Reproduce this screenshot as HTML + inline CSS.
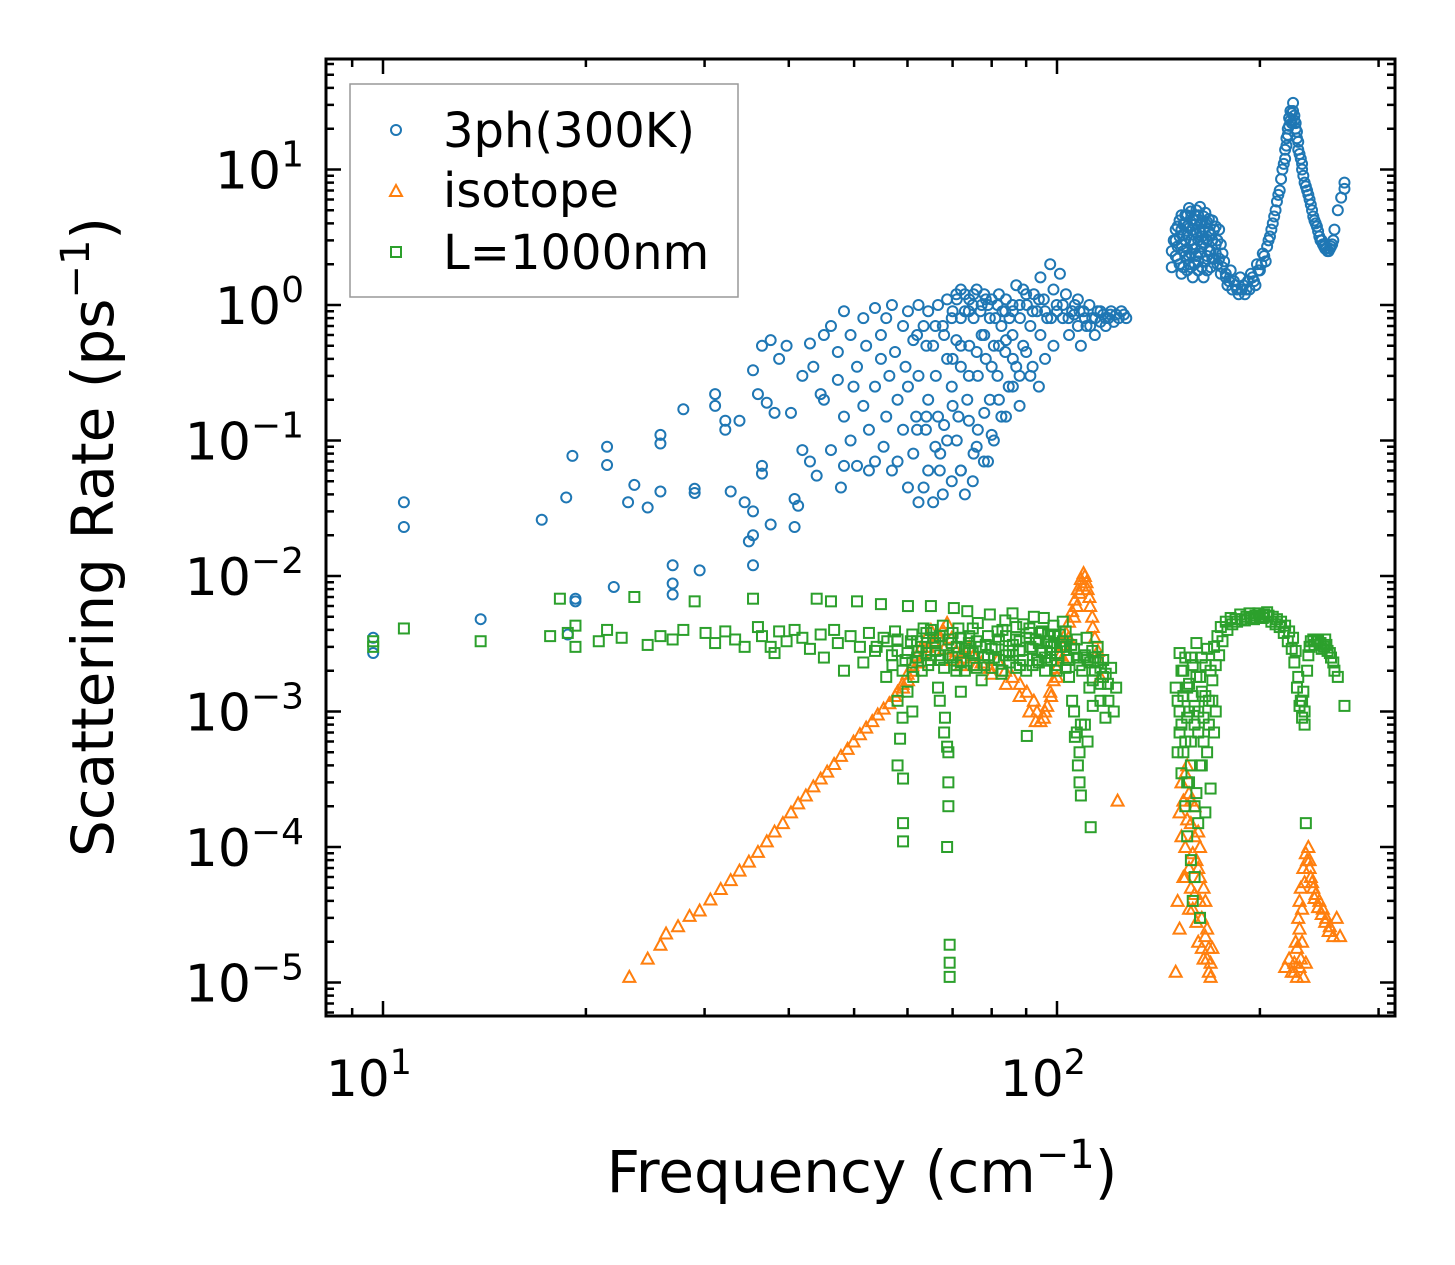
<!DOCTYPE html>
<html><head><meta charset="utf-8"><style>
body{margin:0;background:#fff;}
svg{display:block;font-family:"DejaVu Sans","Liberation Sans",sans-serif;}
</style></head><body>
<svg id="chart" width="1455" height="1265" viewBox="0 0 1455 1265" xmlns="http://www.w3.org/2000/svg">
<rect width="1455" height="1265" fill="#fff"/>
<g id="marks"></g>
<g id="axes"></g>
<g id="legend">
<rect x="350" y="84" width="388" height="213" fill="#fff" stroke="#999" stroke-width="1.5"/>
<g><circle cx="396" cy="130" r="5" fill="none" stroke="#1f77b4" stroke-width="2"/><text x="443" y="147" font-size="48">3ph(300K)</text></g>
<g><path d="M390,196 L396,185 L402,196 Z" fill="none" stroke="#ff7f0e" stroke-width="2"/><text x="443" y="207" font-size="48">isotope</text></g>
<g><rect x="391" y="247" width="10" height="10" fill="none" stroke="#2ca02c" stroke-width="2"/><text x="443" y="269" font-size="48">L=1000nm</text></g>
</g>
<text x="862" y="1192" font-size="58" text-anchor="middle">Frequency (cm<tspan dy="-24" font-size="40">−1</tspan><tspan dy="24">)</tspan></text>
<text transform="translate(113,537) rotate(-90)" font-size="58" text-anchor="middle">Scattering Rate (ps<tspan dy="-24" font-size="40">−1</tspan><tspan dy="24">)</tspan></text>
</svg>
<script>
const xTickExps = [1, 2];
const yTickExps = [1, 0, -1, -2, -3, -4, -5];

const threePhPoints = [
[9.67,0.0035],[9.67,0.0027],[10.74,0.035],[10.74,0.023],[13.96,0.0048],[17.2,0.026],[18.7,0.038],[19.1,0.077],[18.8,0.0037],[19.3,0.0068],[19.3,0.0065],[21.5,0.09],[21.5,0.066],[22,0.0083],[23.1,0.035],[23.6,0.047],[24.7,0.032],[25.8,0.095],[25.8,0.11],[25.8,0.042],[26.9,0.012],[26.9,0.0088],[26.9,0.0073],[27.9,0.17],[29,0.044],[29,0.041],[29.5,0.011],[31.1,0.22],[31.1,0.18],[32.2,0.14],[32.2,0.12],[32.8,0.042],[33.8,0.14],[34.4,0.035],[34.9,0.018],[35.4,0.02],[35.4,0.03],[35.4,0.012],[35.4,0.33],[36,0.22],[36.5,0.5],[36.5,0.065],[36.5,0.057],[37.1,0.19],[37.6,0.024],[37.6,0.55],[38.1,0.16],[38.7,0.4],[39.7,0.5],[40.3,0.16],[40.8,0.023],[40.8,0.037],[41.3,0.033],[41.9,0.085],[41.9,0.3],[43,0.52],[43,0.07],[43.5,0.35],[44,0.055],[44.6,0.22],[45.1,0.6],[45.1,0.2],[46.2,0.085],[46.2,0.7],[47.3,0.28],[47.3,0.45],[47.8,0.045],[48.3,0.15],[48.3,0.9],[48.3,0.065],[49.4,0.6],[49.4,0.1],[49.9,0.25],[50.5,0.35],[50.5,0.065],[51.6,0.18],[51.6,0.8],[52.1,0.5],[52.6,0.06],[52.6,0.12],[53.7,0.95],[53.7,0.25],[53.7,0.07],[54.8,0.4],[54.8,0.6],[55.3,0.09],[55.8,0.15],[55.8,0.8],[56.4,0.3],[56.9,0.06],[56.9,1.0],[57.5,0.45],[58,0.2],[58,0.07],[59.1,0.7],[59.1,0.12],[59.6,0.35],[60.1,0.045],[60.1,0.9],[60.1,0.25],[61.2,0.55],[61.2,0.08],[61.8,0.15],[62.3,0.035],[62.3,1.0],[62.3,0.3],[63.4,0.7],[63.4,0.045],[63.9,0.12],[64.4,0.2],[64.4,0.9],[64.4,0.06],[65.5,0.5],[65.5,0.035],[66.1,0.3],[66.6,1.0],[66.6,0.15],[67.1,0.08],[67.7,0.7],[67.7,0.04],[68.7,0.4],[68.7,1.1],[68.7,0.1],[69.8,0.25],[69.8,0.8],[69.8,0.05],[70.9,1.2],[70.9,0.55],[71.4,0.15],[72,0.06],[72,1.3],[72,0.35],[73,0.9],[73,0.04],[73.6,0.2],[74.1,1.1],[74.1,0.5],[75.2,0.08],[75.2,0.8],[75.2,1.2],[76.3,0.3],[76.3,0.12],[77.3,1.0],[77.3,0.6],[77.9,0.07],[78.4,0.4],[78.4,1.1],[79.5,0.2],[79.5,0.8],[80.6,0.5],[80.6,0.1],[81.6,1.0],[81.6,0.3],[82.7,0.7],[82.7,0.15],[83.8,0.9],[83.8,0.45],[84.8,0.25],[85.9,1.0],[85.9,0.6],[87,1.4],[87,0.35],[88.1,0.8],[89.1,1.3],[89.1,0.5],[90.2,1.0],[91.3,0.7],[91.3,0.3],[92.4,1.2],[93.4,0.9],[94.5,1.6],[94.5,0.6],[95.6,1.1],[96.7,0.8],[97.7,2.0],[98.8,1.3],[98.8,0.5],[99.9,1.0],[101,1.7],[102,0.8],[103.1,1.2],[104.2,0.6],[105.3,0.9],[106.3,1.0],[107.4,0.7],[107.4,1.1],[108.5,0.5],[109.5,0.9],[110.6,0.7],[111.7,1.0],[112.8,0.8],[113.8,0.6],[114.9,0.9],[116,0.75],[117.1,0.85],[118.1,0.7],[119.2,0.8],[120.3,0.9],[121.4,0.75],[122.4,0.85],[123.5,0.8],[124.6,0.9],[125.7,0.85],[126.7,0.8],
[148,2.5],[148,1.9],[149,3.0],[150,3.6],[151,2.2],[152,4.2],[153,2.8],[153,1.7],[154,3.3],[155,4.6],[155,2.3],[156,3.8],[157,2.0],[157,5.2],[158,3.0],[159,4.3],[159,1.6],[160,2.6],[161,5.0],[161,3.4],[162,2.1],[163,4.0],[163,5.3],[164,2.7],[165,4.5],[165,1.6],[166,3.1],[167,2.3],[167,4.1],[168,3.5],[169,2.5],[169,1.9],[170,3.0],[171,2.2],[172,2.8],[173,2.0],[174,3.6],[175,1.7],[176,2.4],[160,3.9],[162,4.6],[158,2.4],[156,1.8],[166,4.8],[164,3.2],[170,4.2],[154,3.9],[172,3.8],
[178,1.7],[180,1.5],[182,1.3],[184,1.4],[186,1.2],[188,1.3],[190,1.2],[192,1.5],[193,1.3],[195,1.6],[197,1.4],[199,1.8],[201,2.0],[203,2.3],[205,2.7],[207,3.2],[209,4.0],[211,5.0],[213,6.5],[215,8.5],[217,11],[218,14],[219,17],[220,20],[221,24],[222,27],[224,31],[225,25],[226,22],[227,19],[228,16],[229,13],[231,11],[232,9],[234,7.5],[236,6.5],[238,5.5],[240,4.5],[242,4.0],[244,3.5],[246,3.0],[248,2.8],[250,2.6],[252,2.5],[254,2.6],[256,2.8],[258,3.6],[261,5.0],[264,6.2],[267,8.0],[267,7.2]
];

const threePhDensePoints = [
[150,3.0],[150,2.3],[151,3.8],[151,2.7],[152,2.0],[152,3.2],[153,4.6],[153,3.6],[154,2.5],[154,1.9],[155,3.0],[155,4.0],[156,2.6],[156,3.3],[156,4.6],[157,2.3],[157,3.7],[158,4.9],[158,1.9],[159,3.6],[159,2.8],[160,2.0],[160,4.6],[161,2.3],[161,4.2],[162,3.0],[162,1.8],[163,3.5],[163,2.4],[164,4.0],[164,1.9],[165,2.9],[165,3.6],[166,2.1],[166,4.0],[167,3.0],[167,1.8],[168,2.5],[168,4.3],[169,3.3],[170,2.2],[171,3.6],[172,2.4],[173,3.0],[174,2.2],[175,2.8],[176,1.9],[177,2.1],[178,1.6],[179,1.4],[181,1.8],[183,1.5],[185,1.3],[187,1.6],[189,1.4],[191,1.3],[194,1.7],[196,1.5],[198,2.0],[200,1.8],[202,2.4],[204,2.1],[206,3.0],[208,3.6],[210,4.5],[212,5.8],[214,7.0],[216,10],[218,12],[219,15],[220,18],[221,21],[222,23],[223,26],[223,22],[224,27],[225,23],[226,20],[227,17],[228,14],[230,12],[231,10],[233,8],[235,7],[237,6],[239,5],[241,4.2],[243,3.8],[245,3.2],[247,3.0],[249,2.7],[251,2.6],[253,2.5],[255,2.7],[257,3.0],
[70,0.9],[71,1.1],[72,0.8],[73,1.2],[74,0.9],[75,1.0],[76,1.3],[77,0.9],[78,1.2],[79,1.0],[80,1.1],[81,0.8],[82,1.2],[83,0.9],[84,1.1],[85,0.8],[86,0.9],[88,1.0],[90,1.2],[92,0.9],[94,1.1],[96,0.9],[98,0.8],[100,0.9],[102,1.0],[104,0.8],[106,0.85],[108,0.9],[110,0.8],[112,0.7],[114,0.8],[116,0.9],[118,0.8],[120,0.85],
[62,0.6],[64,0.5],[66,0.7],[68,0.6],[70,0.4],[72,0.5],[74,0.3],[76,0.45],[78,0.6],[80,0.35],[82,0.5],[84,0.55],[86,0.4],[88,0.3],[90,0.45],[92,0.35],[94,0.25],[96,0.4],
[62,0.12],[64,0.15],[66,0.09],[67,0.06],[68,0.13],[70,0.18],[71,0.1],[72,0.06],[74,0.14],[75,0.05],[76,0.09],[78,0.16],[79,0.07],[80,0.11],[82,0.2],[84,0.15],[86,0.25],[88,0.18]
];

const isotopePoints = [
[23.2,1.1e-5],[24.7,1.5e-5],[25.8,1.9e-5],[26.3,2.3e-5],[27.4,2.6e-5],[28.5,3.1e-5],[29.5,3.4e-5],[30.6,4.1e-5],[31.7,4.9e-5],[32.8,5.7e-5],[33.8,6.7e-5],[34.9,7.8e-5],[36,9.2e-5],[37.1,1.1e-4],[38.1,1.3e-4],[39.2,1.5e-4],[40.3,1.8e-4],[41.3,2.1e-4],[42.4,2.4e-4],[43.5,2.8e-4],[44.6,3.2e-4],[45.6,3.6e-4],[46.7,4.1e-4],[47.8,4.7e-4],[48.9,5.3e-4],[49.9,6e-4],[51,6.8e-4],[52.1,7.6e-4],[53.2,8.5e-4],[54.2,9.5e-4],[55.3,1.05e-3],[56.4,1.15e-3],[57.5,1.3e-3],[59.1,1.5e-3],[60.1,1.7e-3],[61.2,2e-3],[62.3,2.3e-3],[63.4,2.6e-3],[64.4,3e-3],[65.5,3.3e-3],[66.6,3.6e-3],[67.7,4e-3],[68.7,4.5e-3],[69.8,3.5e-3],[70.9,2.8e-3],[72,2.2e-3],[73,2.5e-3],[74.1,3e-3],[75.2,2.6e-3],[77.3,2.3e-3],[79.5,2.1e-3],[81.6,2.4e-3],[83.8,2.0e-3],[85.9,1.8e-3],[88.1,1.6e-3],[90.2,1.4e-3],[92.4,1.2e-3],[93.4,1.0e-3],[94.5,8.5e-4],[95.6,9e-4],[96.7,1.1e-3],[97.7,1.4e-3],[98.8,1.7e-3],[99.9,2.1e-3],[101,2.6e-3],[102,3.1e-3],[103.1,3.8e-3],[104.2,4.6e-3],[105.3,5.5e-3],[106.3,6.7e-3],[107.4,8e-3],[108.5,9.5e-3],[109.5,1.05e-2],[110.6,9e-3],[111.7,7e-3],[112.8,5e-3],[113.8,3.5e-3],[114.9,2.5e-3],[116,1.8e-3],[123,2.2e-4],
[150,1.2e-5],[152,1.8e-4],[153,3e-4],[154,6e-5],[155,1e-4],[156,4e-4],[157,2.5e-4],[158,1.5e-4],[158,5e-5],[159,3.5e-5],[160,2e-4],[161,8e-5],[162,2e-5],[162,1.3e-4],[163,6e-5],[164,3e-5],[165,1.5e-5],[166,4e-5],[167,2.5e-5],[168,1.2e-5],[169,1.1e-5],[170,1.8e-5],[163,1.0e-4],[157,7e-5],
[218,1.3e-5],[221,1.5e-5],[223,1.2e-5],[226,2e-5],[228,3e-5],[229,4e-5],[230,5e-5],[232,7e-5],[234,9e-5],[236,1e-4],[237,8e-5],[238,6e-5],[240,5e-5],[242,4.5e-5],[245,4e-5],[248,3.5e-5],[251,3e-5],[254,2.6e-5],[257,2.2e-5],[260,3e-5],[263,2.2e-5],[229,1.3e-5],[231,2e-5],[232,1.1e-5],[234,1.4e-5]
];

const isotopeDensePoints = [
[58,1.4e-3],[59,1.6e-3],[60,1.9e-3],[61,2.2e-3],[62,2.6e-3],[63,3.0e-3],[64,3.5e-3],[65,4.0e-3],[66,3.2e-3],[67,3.6e-3],[68,2.9e-3],[70,2.4e-3],[72,2.7e-3],[76,2.2e-3],[80,1.9e-3],[84,1.6e-3],[88,1.3e-3],[91,1.0e-3],[93,8.5e-4],[96,1.0e-3],[98,1.3e-3],[100,1.8e-3],[102,2.5e-3],[104,3.5e-3],[106,5e-3],[107,6e-3],[108,7.5e-3],[109,8.5e-3],[110,1.0e-2],[111,8e-3],[112,6e-3],[113,4.2e-3],[115,2.8e-3],
[151,4e-5],[152,2.5e-5],[153,1.2e-4],[154,2.2e-4],[155,3.5e-4],[155,6e-5],[156,1.6e-4],[157,3.5e-5],[158,2.2e-4],[159,9e-5],[160,1.2e-4],[160,4.5e-5],[161,2.8e-5],[162,7e-5],[163,4e-5],[164,1.8e-5],[165,5e-5],[166,2.2e-5],[167,1.5e-5],[168,1.8e-5],[169,1.4e-5],
[225,1.4e-5],[227,1.8e-5],[229,2.5e-5],[231,3.5e-5],[233,5.5e-5],[235,8e-5],[237,7e-5],[239,5.5e-5],[241,4.2e-5],[244,3.6e-5],[247,3.2e-5],[250,2.8e-5],[253,2.4e-5],[227,1.1e-5],[225,1.2e-5],[230,1.5e-5]
];

const boundaryPoints = [
[9.67,3.3e-3],[9.67,3.0e-3],[10.74,4.1e-3],[13.96,3.3e-3],[17.7,3.6e-3],[18.3,6.8e-3],[18.8,3.8e-3],[19.3,4.3e-3],[19.3,3.0e-3],[20.9,3.3e-3],[21.5,4.0e-3],[22.6,3.5e-3],[23.6,7.0e-3],[24.7,3.1e-3],[25.8,3.6e-3],[26.9,3.4e-3],[27.9,4.0e-3],[29,6.5e-3],[30.1,3.8e-3],[31.1,3.2e-3],[32.2,3.9e-3],[33.3,3.4e-3],[34.4,3.0e-3],[35.4,6.8e-3],[36,4.2e-3],[36.5,3.6e-3],[37.6,3.0e-3],[38.1,2.7e-3],[38.7,3.9e-3],[39.7,3.3e-3],[40.8,4.0e-3],[41.9,3.5e-3],[43,2.9e-3],[44,6.8e-3],[44.6,3.7e-3],[45.1,2.5e-3],[46.2,6.5e-3],[46.7,4.0e-3],[47.3,3.2e-3],[48.3,2.0e-3],[49.4,3.6e-3],[50.5,6.5e-3],[51,3.0e-3],[51.6,2.3e-3],[52.6,3.8e-3],[53.7,2.8e-3],[54.8,6.2e-3],[55.3,3.5e-3],[55.8,1.8e-3],[56.9,2.6e-3],[57.5,3.9e-3],[58,1.2e-3],[58.5,6.3e-4],[59.1,3.2e-4],[59.1,1.5e-4],[59.1,1.1e-4],[59.6,2.4e-3],[60.1,6e-3],[60.7,3.3e-3],[61.2,1.8e-3],[62.3,2.8e-3],[63.4,4.1e-3],[64.4,2.2e-3],[65,6e-3],[65.5,3.5e-3],[66.6,1.5e-3],[67.1,2.6e-3],[67.7,4.3e-3],[68.2,9e-4],[68.7,5.5e-4],[69.3,1.9e-5],[69.3,1.4e-5],[69.3,1.1e-5],[68.7,1e-4],[69.8,3.2e-3],[70.3,5.8e-3],[70.9,2.0e-3],[71.4,4.1e-3],[72,1.4e-3],[73,2.9e-3],[73.6,5.5e-3],[74.1,3.6e-3],[75.2,2.2e-3],[76.3,4.5e-3],[77.3,1.7e-3],[78.4,3.1e-3],[79.5,5.2e-3],[80.6,2.5e-3],[81.6,3.9e-3],[82.7,1.9e-3],[83.8,4.7e-3],[84.8,2.8e-3],[85.9,5.3e-3],[87,3.4e-3],[88.1,2.2e-3],[89.1,4.4e-3],[90.2,6.6e-4],[91.3,3.0e-3],[92.4,5.0e-3],[93.4,2.4e-3],[94.5,3.8e-3],[95.6,4.9e-3],[96.7,3.3e-3],[97.7,2.7e-3],[98.8,4.3e-3],[99.9,2.0e-3],[101,3.7e-3],[102,4.6e-3],[103.1,3.0e-3],[104.2,1.8e-3],[105.3,1.2e-3],[106.3,6.5e-4],[107.4,4e-4],[108,3e-4],[108.5,2.4e-4],[108.5,8e-4],[109.5,2.5e-3],[110.6,3.5e-3],[111.7,1.5e-3],[112.2,1.4e-4],[112.8,2.8e-3],[113.8,2.0e-3],[114.9,3.0e-3],[116,1.6e-3],[117.1,2.4e-3],[118.1,1.9e-3],[119.2,1.2e-3],[120.3,2.1e-3],[121.4,1.0e-3],[122.4,1.5e-3],
[62,2.5e-3],[63,3.0e-3],[64,2.7e-3],[66,3.2e-3],[67,2.4e-3],[69,2.6e-3],[71,3.0e-3],[72,2.3e-3],[74,2.8e-3],[76,3.3e-3],[78,2.5e-3],[80,2.9e-3],[82,3.4e-3],[84,2.6e-3],[86,3.1e-3],[88,2.8e-3],[90,3.5e-3],[92,2.9e-3],[94,3.2e-3],[96,2.5e-3],[98,3.0e-3],[100,2.7e-3],[102,3.3e-3],[104,2.4e-3],[106,2.9e-3],[108,2.2e-3],[110,2.6e-3],[112,2.3e-3],[114,2.5e-3],[116,2.1e-3],[58,2.8e-3],[56,3.3e-3],[54,3.0e-3],[61,3.7e-3],[65,4.0e-3],[70,3.8e-3],[75,4.1e-3],[79,3.6e-3],[83,4.0e-3],[87,4.2e-3],[91,4.1e-3],[95,3.9e-3],[99,3.6e-3],[103,3.9e-3],[107,3.4e-3],
[152,1e-3],[152,7e-4],[153,2e-3],[153,3.5e-4],[154,1.3e-3],[154,5e-4],[155,2.5e-3],[155,2e-4],[156,9e-4],[156,1.2e-4],[157,1.6e-3],[157,3e-4],[158,6e-4],[158,8e-5],[159,2.2e-3],[159,4e-5],[160,1.1e-3],[160,6e-5],[161,3.2e-3],[161,2.5e-4],[162,7e-4],[162,1.5e-4],[163,1.8e-3],[163,3e-5],[164,1.4e-3],[164,4e-4],[165,9e-4],[166,2.2e-3],[166,1.8e-4],[167,5e-4],[168,1.2e-3],[169,2.7e-4],[170,1.7e-3],[171,7e-4],[172,1.0e-3],[174,2.6e-3],[176,3.3e-3],[179,4.0e-3],[182,4.4e-3],[185,4.6e-3],[188,4.8e-3],[191,5.0e-3],[194,4.9e-3],[197,5.1e-3],[200,5.0e-3],[203,5.2e-3],[206,5.1e-3],[209,5.0e-3],[212,4.8e-3],[215,4.6e-3],[218,4.3e-3],[221,3.9e-3],[224,3.5e-3],[226,2.8e-3],[228,1.8e-3],[230,1.2e-3],[231,9e-4],[232,1.4e-3],[233,1.0e-3],[234,1.5e-4],[235,2.0e-3],[237,3.0e-3],[240,3.4e-3],[243,3.3e-3],[246,3.2e-3],[249,3.0e-3],[252,2.8e-3],[255,2.5e-3],[258,2.0e-3],[261,1.8e-3],[267,1.1e-3],[250,3.4e-3]
];

const boundaryDensePoints = [
[57,2.2e-3],[58,3.4e-3],[59,2.0e-3],[60,2.7e-3],[61,2.3e-3],[62,3.3e-3],[63,2.0e-3],[64,3.8e-3],[65,2.4e-3],[66,2.8e-3],[67,3.6e-3],[68,2.1e-3],[69,3.4e-3],[70,2.5e-3],[71,2.2e-3],[72,3.5e-3],[73,2.0e-3],[74,3.2e-3],[75,2.7e-3],[76,2.1e-3],[77,3.0e-3],[78,2.2e-3],[79,2.6e-3],[80,2.1e-3],[81,3.0e-3],[82,2.4e-3],[83,2.0e-3],[84,3.6e-3],[85,2.3e-3],[86,2.6e-3],[87,2.1e-3],[88,3.3e-3],[89,2.4e-3],[90,2.0e-3],[91,3.8e-3],[92,2.2e-3],[93,3.4e-3],[94,2.3e-3],[95,2.8e-3],[96,2.0e-3],[97,3.7e-3],[98,2.4e-3],[99,3.2e-3],[100,2.2e-3],[101,3.0e-3],[103,2.1e-3],[105,3.1e-3],[107,2.5e-3],[109,2.0e-3],[111,2.4e-3],[113,1.7e-3],[115,2.3e-3],[117,1.8e-3],[119,1.6e-3],
[60,1.4e-3],[61,1.0e-3],[67,1.2e-3],[68,7e-4],[69,5e-4],[69,3e-4],[69,2e-4],[106,1.0e-3],[107,7e-4],[108,5e-4],[110,8e-4],[111,6e-4],[113,1.1e-3],[116,1.2e-3],[118,9e-4],[59,9e-4],[58,4e-4],
[150,1.5e-3],[151,1.2e-3],[151,5e-4],[152,2.7e-3],[153,8e-4],[154,2.0e-3],[155,6e-4],[156,1.5e-3],[156,3e-4],[157,1.0e-3],[158,2.5e-3],[158,4e-4],[159,1.3e-3],[160,8e-4],[160,2e-4],[161,1.8e-3],[162,1.0e-3],[163,4e-4],[164,2.5e-3],[165,6e-4],[166,1.3e-3],[167,2.9e-3],[168,8e-4],[169,2.0e-3],[170,1.2e-3],[171,3.0e-3],[172,2.2e-3],[173,3.6e-3],
[175,4.2e-3],[178,4.6e-3],[181,4.9e-3],[184,4.8e-3],[187,5.2e-3],[190,4.7e-3],[193,5.3e-3],[196,4.8e-3],[199,5.3e-3],[202,4.9e-3],[205,5.4e-3],[208,4.6e-3],[211,4.4e-3],[214,4.2e-3],[217,3.8e-3],[220,3.3e-3],[223,2.9e-3],[225,2.3e-3],[227,1.5e-3],[229,1.1e-3],[231,1.2e-3],[233,8e-4],[236,2.6e-3],[238,3.3e-3],[241,3.1e-3],[244,3.4e-3],[247,2.9e-3],[251,3.1e-3],[254,2.7e-3],[257,2.3e-3]
];

const NS = 'http://www.w3.org/2000/svg';
const L = 326, R = 1395, T = 59, B = 1016;
function xScale(f){ return 383 + 674 * (Math.log10(f) - 1); }
function yScale(r){ return 305 - 135.5 * Math.log10(r); }
function mk(tag, attrs, parent){ const e = document.createElementNS(NS, tag); for (const k in attrs) e.setAttribute(k, attrs[k]); parent.appendChild(e); return e; }

const marks = document.getElementById('marks');
threePhPoints.concat(threePhDensePoints).forEach(p => {
  const c = mk('circle', {cx: xScale(p[0]), cy: yScale(p[1]), r: 5, fill: 'none', stroke: '#1f77b4', 'stroke-width': 2}, marks);
  
  
});
isotopePoints.concat(isotopeDensePoints).forEach(p => {
  const x = xScale(p[0]), y = yScale(p[1]);
  const t = mk('path', {d: `M${x-6},${y+5} L${x},${y-6} L${x+6},${y+5} Z`, fill: 'none', stroke: '#ff7f0e', 'stroke-width': 2}, marks);
  
  
});
boundaryPoints.concat(boundaryDensePoints).forEach(p => {
  const s = mk('rect', {x: xScale(p[0]) - 5, y: yScale(p[1]) - 5, width: 10, height: 10, fill: 'none', stroke: '#2ca02c', 'stroke-width': 2}, marks);
  
  
});

const axes = document.getElementById('axes');
const frame = mk('rect', {x: L, y: T, width: R - L, height: B - T, fill: 'none', stroke: '#000', 'stroke-width': 3}, axes);



for (let d = 0; d <= 2; d++) {
  for (let m = 1; m <= 9; m++) {
    const v = m * Math.pow(10, d);
    const x = xScale(v);
    if (x < L || x > R) continue;
    const len = m === 1 ? 15 : 8;
    const tk = mk('path', {d: `M${x},${B} V${B-len} M${x},${T} V${T+len}`, stroke: '#000', 'stroke-width': 2.5}, axes);
    
    
  }
}
xTickExps.forEach(e => {
  const t = mk('text', {x: xScale(Math.pow(10, e)) - 14, y: 1096, 'font-size': 50, 'text-anchor': 'middle'}, axes);
  
  
  t.innerHTML = `10<tspan dy="-22" font-size="35">${e}</tspan>`;
});
for (let d = -6; d <= 1; d++) {
  for (let m = 1; m <= 9; m++) {
    const v = m * Math.pow(10, d);
    const y = yScale(v);
    if (y < T || y > B) continue;
    const len = m === 1 ? 15 : 8;
    const tk = mk('path', {d: `M${L},${y} H${L+len} M${R},${y} H${R-len}`, stroke: '#000', 'stroke-width': 2.5}, axes);
    
    
  }
}
yTickExps.forEach(e => {
  const y = yScale(Math.pow(10, e));
  const t = mk('text', {x: 304, y: y + 19, 'font-size': 52, 'text-anchor': 'end'}, axes);
  
  
  const lab = e < 0 ? '−' + (-e) : '' + e;
  t.innerHTML = `10<tspan dy="-22" font-size="36">${lab}</tspan>`;
});
</script>
</body></html>
